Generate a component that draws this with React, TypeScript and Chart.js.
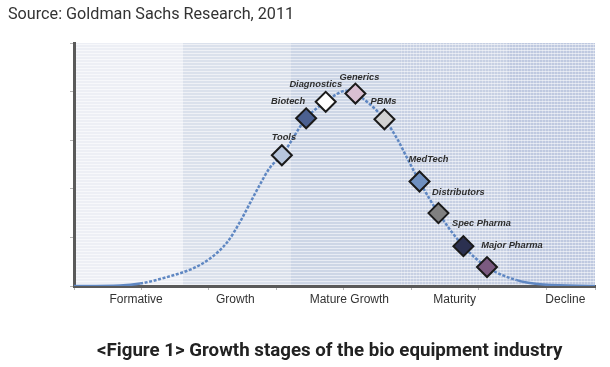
import React, { useEffect, useRef } from "react";
import { Chart, registerables } from "chart.js";

Chart.register(...registerables);

const sourceText = "Source: Goldman Sachs Research, 2011";
const captionText = "<Figure 1> Growth stages of the bio equipment industry";

// Stage axis (x units: one unit = one minor tick)
const stageLabels = ["Formative", "Growth", "Mature Growth", "Maturity", "Decline"];
const stageLabelX = [0.92, 2.39, 4.08, 5.64, 7.28];
const stageBounds = [0, 1.615, 3.215, 4.83, 6.43, 7.72];
const bandColors = ["#edeff5", "#dbe1ec", "#cdd6e6", "#c7d0e3", "#bfc9e0"];
const bandVertical = [false, false, false, true, true];

// Adoption curve
const curveX = [0, 0.68, 0.98, 1.42, 1.76, 2.01, 2.27, 2.46, 2.61, 2.76, 2.9, 3.08, 3.44, 3.73, 4.04, 4.17, 4.6, 4.8, 4.93, 5.12, 5.4, 5.77, 6.12, 6.56, 6.95, 7.72];
const curveY = [0, 0.01, 0.05, 0.2, 0.36, 0.56, 0.9, 1.32, 1.71, 2.1, 2.43, 2.69, 3.45, 3.79, 4.02, 3.96, 3.43, 3.0, 2.65, 2.15, 1.5, 0.82, 0.39, 0.12, 0.03, 0];

// Industry segments
const companyNames = ["Tools", "Biotech", "Diagnostics", "Generics", "PBMs", "MedTech", "Distributors", "Spec Pharma", "Major Pharma"];
const companyX = [3.08, 3.44, 3.73, 4.17, 4.6, 5.12, 5.4, 5.77, 6.12];
const companyY = [2.69, 3.45, 3.79, 3.96, 3.43, 2.15, 1.5, 0.82, 0.39];
const companyColors = ["#b7c6dd", "#4b6090", "#ffffff", "#d9bfd2", "#d2d2d2", "#6f90c0", "#808080", "#2b3050", "#7b5a80"];
const labelOffsets = [[2, -18], [-18, -17], [-10, -17], [4, -16], [-1, -18], [9, -22], [20, -21], [18, -23], [25, -22]];

const bandPlugin = {
  id: "bands",
  beforeDraw(chart: any) {
    const { ctx, chartArea, scales } = chart;
    const xs = scales.x;
    const top = chartArea.top;
    const bottom = chartArea.bottom;
    ctx.save();
    for (let i = 0; i < bandColors.length; i++) {
      const x0 = Math.round(xs.getPixelForValue(stageBounds[i]));
      const x1 = Math.round(xs.getPixelForValue(stageBounds[i + 1]));
      ctx.fillStyle = bandColors[i];
      ctx.fillRect(x0, top, x1 - x0, bottom - top);
      ctx.fillStyle = "rgba(255,255,255,0.55)";
      for (let y = top + 1; y < bottom; y += 3) {
        ctx.fillRect(x0, y, x1 - x0, 1);
      }
      if (bandVertical[i]) {
        ctx.fillStyle = "rgba(255,255,255,0.3)";
        for (let x = x0 + 1; x < x1; x += 3) {
          ctx.fillRect(x, top, 1, bottom - top);
        }
      }
    }
    ctx.restore();
  },
};

const labelPlugin = {
  id: "segLabels",
  afterDatasetsDraw(chart: any) {
    const { ctx } = chart;
    const meta = chart.getDatasetMeta(1);
    ctx.save();
    ctx.font = "italic bold 9.3px 'Liberation Sans', Arial, sans-serif";
    ctx.fillStyle = "#2e2e2e";
    ctx.textAlign = "center";
    ctx.textBaseline = "middle";
    meta.data.forEach((el: any, i: number) => {
      const [dx, dy] = labelOffsets[i];
      ctx.fillText(companyNames[i], el.x + dx, el.y + dy);
    });
    ctx.restore();
  },
};

export default function App() {
  const canvasRef = useRef<HTMLCanvasElement | null>(null);

  useEffect(() => {
    if (!canvasRef.current) return;
    const chart = new Chart(canvasRef.current, {
      type: "line",
      data: {
        datasets: [
          {
            label: "curve",
            order: 2,
            data: curveX.map((x, i) => ({ x, y: curveY[i] })),
            borderColor: "#5f87c2",
            borderWidth: 2.5,
            pointRadius: 0,
            cubicInterpolationMode: "monotone",
            fill: false,
            segment: {
              borderDash: (c: any) =>
                c.p1.parsed.x <= 1.0 || c.p0.parsed.x >= 6.5 ? [] : [3, 1.6],
            },
          } as any,
          {
            label: "segments",
            order: 1,
            data: companyX.map((x, i) => ({ x, y: companyY[i] })),
            showLine: false,
            pointStyle: "rectRot",
            pointRadius: 10,
            pointHoverRadius: 10,
            pointBackgroundColor: companyColors,
            pointBorderColor: "#1a1a1a",
            pointBorderWidth: 2,
          } as any,
        ],
      },
      options: {
        responsive: false,
        animation: false,
        events: [],
        layout: { padding: { left: 0, right: 15, top: 43, bottom: 55 } },
        plugins: { legend: { display: false }, tooltip: { enabled: false }, title: { display: false } },
        scales: {
          x: {
            type: "linear",
            position: "bottom",
            weight: 0,
            min: 0,
            max: 7.72,
            ticks: { display: false, stepSize: 1 },
            grid: { drawOnChartArea: false, drawTicks: true, tickLength: 4, color: "#b5b5b5" },
            border: { display: true, color: "#5a5a5a", width: 3 },
            afterFit: (s: any) => { s.height = 6; },
          },
          xStage: {
            type: "linear",
            position: "bottom",
            weight: 1,
            min: 0,
            max: 7.72,
            afterBuildTicks: (s: any) => { s.ticks = stageLabelX.map((v) => ({ value: v })); },
            ticks: {
              autoSkip: false,
              maxRotation: 0,
              padding: -8,
              color: "#333333",
              font: { family: "'Liberation Sans', Arial, sans-serif", size: 12 },
              callback: (_v: any, i: number) => stageLabels[i],
            },
            grid: { display: false },
            border: { display: false },
            afterFit: (s: any) => { s.height = 20; },
          } as any,
          y: {
            type: "linear",
            min: 0,
            max: 5,
            ticks: { display: false, stepSize: 1 },
            grid: { drawOnChartArea: false, drawTicks: true, tickLength: 4, color: "#b5b5b5" },
            border: { display: true, color: "#5a5a5a", width: 3 },
            afterFit: (s: any) => { s.width = 74; },
          },
        },
      },
      plugins: [bandPlugin, labelPlugin],
    });
    return () => chart.destroy();
  }, []);

  return (
    <div style={{ position: "fixed", left: 0, top: 0, width: 610, height: 367, background: "#ffffff", overflow: "hidden" }}>
      <canvas ref={canvasRef} width={610} height={367} style={{ position: "absolute", left: 0, top: 0, width: 610, height: 367 }} />
      <div style={{ position: "absolute", left: 8, top: 4, font: "16.2px Roboto, sans-serif", color: "#333333", whiteSpace: "nowrap" }}>
        {sourceText}
      </div>
      <div style={{ position: "absolute", left: 97, top: 339, font: "bold 18.7px Roboto, sans-serif", color: "#222222", whiteSpace: "nowrap" }}>
        {captionText}
      </div>
    </div>
  );
}
